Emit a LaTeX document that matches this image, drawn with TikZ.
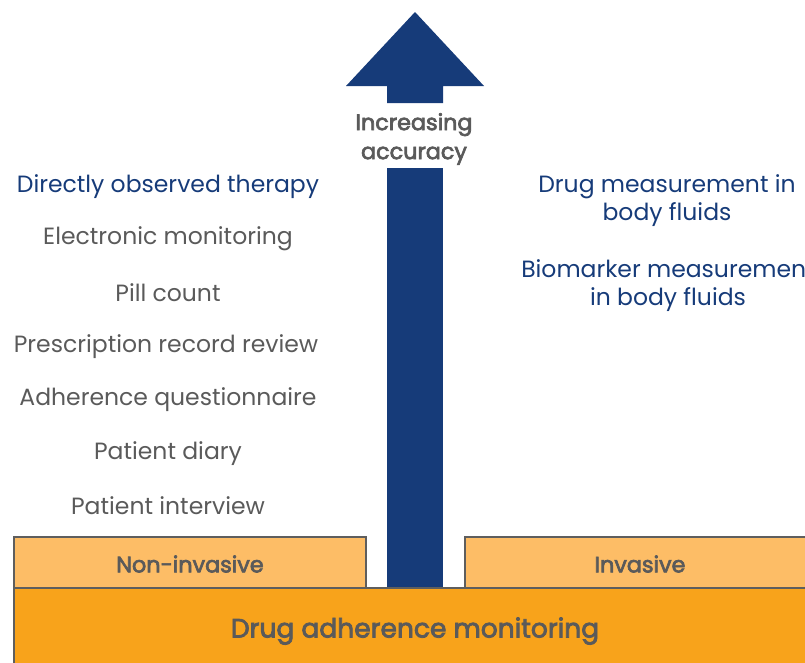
\documentclass[tikz,border=0pt]{standalone}
\usepackage{fontspec}
\setmainfont{Poppins}
\newfontfamily\medfont{Poppins}[FakeBold=3]
\definecolor{navy}{HTML}{163B79}
\definecolor{txtgray}{HTML}{5A5A5A}
\definecolor{lightor}{HTML}{FDBD66}
\definecolor{darkor}{HTML}{F8A31B}
\definecolor{edgegray}{HTML}{5E5E5E}
\begin{document}
\begin{tikzpicture}[x=1pt,y=-1pt,
  lbl/.style={font=\fontsize{23.5}{28}\selectfont, text=txtgray, inner sep=0pt, anchor=center},
  blu/.style={font=\fontsize{23.5}{28}\selectfont, text=navy, inner sep=0pt, align=center, anchor=center},
  boxlbl/.style={font=\medfont\fontsize{22.3}{26}\selectfont, text=txtgray, inner sep=0pt},
  catbox/.style={draw=edgegray, line width=2pt, fill=lightor},
  basebox/.style={draw=edgegray, line width=2pt, fill=darkor}]
\useasboundingbox (0,0) rectangle (805,662);
\clip (0,0) rectangle (805,662);
% arrow
\fill[navy] (415,12) -- (484,86) -- (443,86) -- (443,103) -- (387,103) -- (387,86) -- (346,86) -- cycle;
\fill[navy] (387,168) rectangle (443,590);
\node[boxlbl, align=center, font=\medfont\fontsize{22.3}{29}\selectfont] (acc) at (414,139) {Increasing\\accuracy};
% boxes
\draw[catbox] (14,537) rectangle (366,588);
\draw[catbox] (465,537) rectangle (820,588);
\draw[basebox] (14,588) rectangle (820,680);
\node[boxlbl] (ni) at (190,564) {Non-invasive};
\node[boxlbl] (inv) at (640,564) {Invasive};
\node[boxlbl, font=\medfont\fontsize{26.5}{30}\selectfont] (dam) at (415,631) {Drug adherence monitoring};
% left list
\node[blu] (dot) at (168,187) {Directly observed therapy};
\node[lbl] (em) at (168,239) {Electronic monitoring};
\node[lbl] (pc) at (168,293) {Pill count};
\node[lbl] (prr) at (166,347) {Prescription record review};
\node[lbl] (aq) at (168,400) {Adherence questionnaire};
\node[lbl] (pd) at (168,454) {Patient diary};
\node[lbl] (pi) at (168,506) {Patient interview};
% right list
\node[blu] (dm) at (667,201) {Drug measurement in\\body fluids};
\node[blu] (bm) at (668,286) {Biomarker measurement\\in body fluids};
\end{tikzpicture}
\end{document}
